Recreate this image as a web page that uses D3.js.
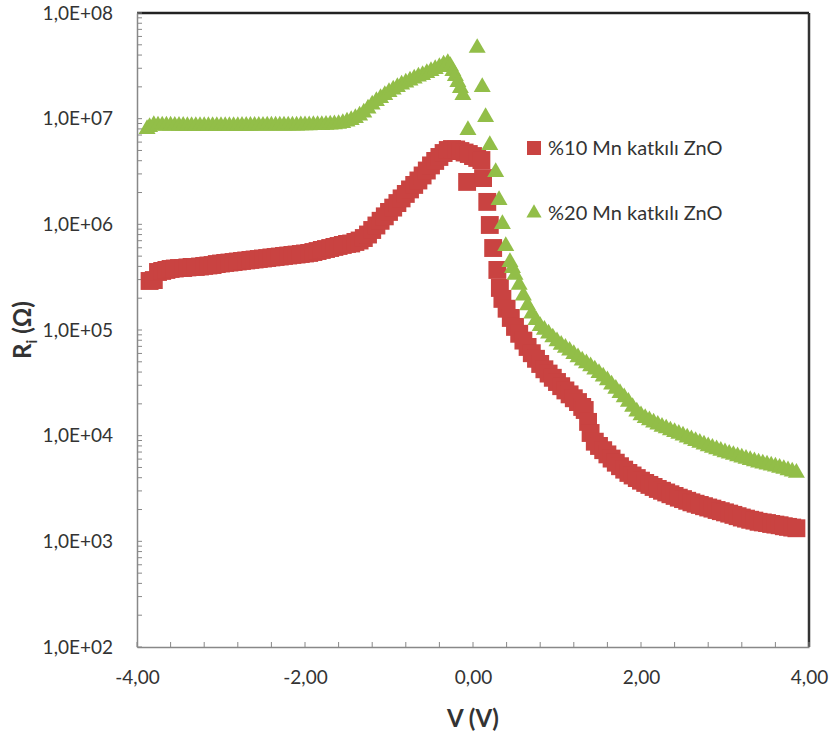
<!DOCTYPE html>
<html>
<head>
<meta charset="utf-8">
<script src="https://cdn.jsdelivr.net/npm/d3@7"></script>
<style>
  body { margin: 0; background: #fff; }
  text { font-family: Lato, "Liberation Sans", sans-serif; fill: #333; }
</style>
</head>
<body>
<div id="chart"></div>
<script>
// Series 1: %10 Mn katkili ZnO (V in volts, R in ohm)
var v10 = [-3.85, -3.80, -3.75, -3.70, -3.65, -3.60, -3.55, -3.50, -3.45, -3.40, -3.35, -3.30, -3.25, -3.20,
           -3.15, -3.10, -3.05, -3.00, -2.95, -2.90, -2.85, -2.80, -2.75, -2.70, -2.65, -2.60, -2.55, -2.50,
           -2.45, -2.40, -2.35, -2.30, -2.25, -2.20, -2.15, -2.10, -2.05, -2.00, -1.95, -1.90, -1.85, -1.80,
           -1.75, -1.70, -1.65, -1.60, -1.55, -1.50, -1.45, -1.40, -1.35, -1.30, -1.25, -1.20, -1.15, -1.10,
           -1.05, -1.00, -0.95, -0.90, -0.85, -0.80, -0.75, -0.70, -0.65, -0.60, -0.55, -0.50, -0.45, -0.40,
           -0.35, -0.30, -0.25, -0.20, -0.15, -0.10, -0.07, -0.05, 0.00, 0.05, 0.10, 0.12, 0.17, 0.20, 0.24,
           0.29, 0.32, 0.35, 0.40, 0.45, 0.50, 0.55, 0.60, 0.65, 0.70, 0.75, 0.80, 0.85, 0.90, 0.95, 1.00,
           1.05, 1.10, 1.15, 1.20, 1.25, 1.30, 1.33, 1.37, 1.40, 1.45, 1.50, 1.55, 1.60, 1.65, 1.70, 1.75,
           1.80, 1.85, 1.90, 1.95, 2.00, 2.05, 2.10, 2.15, 2.20, 2.25, 2.30, 2.35, 2.40, 2.45, 2.50, 2.55,
           2.60, 2.65, 2.70, 2.75, 2.80, 2.85, 2.90, 2.95, 3.00, 3.05, 3.10, 3.15, 3.20, 3.25, 3.30, 3.35,
           3.40, 3.45, 3.50, 3.55, 3.60, 3.65, 3.70, 3.75, 3.80, 3.85];
var r10 = [2.91e5, 2.97e5, 3.54e5, 3.62e5, 3.70e5, 3.78e5, 3.82e5, 3.86e5, 3.86e5, 3.91e5, 3.95e5, 3.95e5, 3.99e5, 4.04e5,
           4.08e5, 4.12e5, 4.21e5, 4.26e5, 4.31e5, 4.35e5, 4.40e5, 4.45e5, 4.50e5, 4.55e5, 4.60e5, 4.65e5, 4.70e5, 4.75e5,
           4.80e5, 4.86e5, 4.91e5, 4.96e5, 5.02e5, 5.07e5, 5.13e5, 5.18e5, 5.24e5, 5.30e5, 5.36e5, 5.47e5, 5.59e5, 5.72e5,
           5.84e5, 5.97e5, 6.11e5, 6.24e5, 6.38e5, 6.52e5, 6.59e5, 6.81e5, 7.03e5, 7.42e5, 8.01e5, 8.84e5, 9.75e5, 1.08e6,
           1.19e6, 1.31e6, 1.44e6, 1.59e6, 1.76e6, 1.94e6, 2.14e6, 2.36e6, 2.60e6, 2.90e6, 3.23e6, 3.61e6, 3.98e6, 4.34e6,
           4.73e6, 5.05e6, 5.16e6, 5.11e6, 4.94e6, 4.78e6, 2.52e6, 4.63e6, 4.43e6, 4.25e6, 4.06e6, 2.74e6, 1.63e6, 9.86e5, 5.97e5,
           3.70e5, 2.50e5, 1.97e5, 1.59e5, 1.30e5, 1.07e5, 9.21e4, 7.94e4, 6.91e4, 6.03e4, 5.34e4, 4.77e4, 4.25e4, 3.87e4, 3.53e4, 3.22e4,
           2.94e4, 2.68e4, 2.46e4, 2.26e4, 2.08e4, 1.87e4, 1.75e4, 1.35e4, 1.06e4, 8.77e3, 7.99e3, 7.29e3, 6.65e3, 6.07e3, 5.55e3, 5.14e3,
           4.77e3, 4.44e3, 4.20e3, 3.97e3, 3.75e3, 3.57e3, 3.42e3, 3.27e3, 3.13e3, 3.01e3, 2.90e3, 2.79e3, 2.69e3, 2.59e3, 2.51e3, 2.42e3,
           2.34e3, 2.27e3, 2.21e3, 2.15e3, 2.09e3, 2.04e3, 1.98e3, 1.93e3, 1.88e3, 1.83e3, 1.78e3, 1.73e3, 1.68e3, 1.64e3, 1.60e3, 1.57e3,
           1.53e3, 1.51e3, 1.49e3, 1.46e3, 1.44e3, 1.42e3, 1.39e3, 1.37e3, 1.35e3, 1.33e3];

// Series 2: %20 Mn katkili ZnO
var v20 = [-3.88, -3.85, -3.80, -3.75, -3.70, -3.65, -3.60, -3.55, -3.50, -3.45, -3.40, -3.35, -3.30, -3.25, -3.20,
           -3.15, -3.10, -3.05, -3.00, -2.95, -2.90, -2.85, -2.80, -2.75, -2.70, -2.65, -2.60, -2.55, -2.50,
           -2.45, -2.40, -2.35, -2.30, -2.25, -2.20, -2.15, -2.10, -2.05, -2.00, -1.95, -1.90, -1.85, -1.80,
           -1.75, -1.70, -1.65, -1.60, -1.55, -1.50, -1.45, -1.40, -1.35, -1.30, -1.25, -1.20, -1.15, -1.10,
           -1.05, -1.00, -0.95, -0.90, -0.85, -0.80, -0.75, -0.70, -0.65, -0.60, -0.55, -0.50, -0.45, -0.40,
           -0.35, -0.30, -0.27, -0.24, -0.21, -0.18, -0.15, -0.12, -0.06,
           0.05, 0.11, 0.15, 0.20, 0.27, 0.31, 0.35, 0.39, 0.44, 0.47, 0.50, 0.55, 0.60, 0.65, 0.70, 0.75,
           0.80, 0.85, 0.90, 0.95, 1.00, 1.05, 1.10, 1.15, 1.20, 1.25, 1.30, 1.35, 1.40, 1.45, 1.50, 1.55,
           1.60, 1.65, 1.70, 1.75, 1.80, 1.85, 1.90, 1.95, 2.00, 2.05, 2.10, 2.15, 2.20, 2.25, 2.30, 2.35,
           2.40, 2.45, 2.50, 2.55, 2.60, 2.65, 2.70, 2.75, 2.80, 2.85, 2.90, 2.95, 3.00, 3.05, 3.10, 3.15,
           3.20, 3.25, 3.30, 3.35, 3.40, 3.45, 3.50, 3.55, 3.60, 3.65, 3.70, 3.75, 3.80, 3.85];
var r20 = [7.98e6, 8.34e6, 8.71e6, 8.62e6, 8.62e6, 8.60e6, 8.60e6, 8.58e6, 8.55e6, 8.55e6, 8.52e6, 8.52e6, 8.52e6, 8.52e6, 8.52e6,
           8.52e6, 8.52e6, 8.52e6, 8.52e6, 8.52e6, 8.52e6, 8.52e6, 8.52e6, 8.55e6, 8.55e6, 8.55e6, 8.58e6, 8.58e6, 8.58e6,
           8.60e6, 8.60e6, 8.60e6, 8.62e6, 8.62e6, 8.62e6, 8.62e6, 8.62e6, 8.65e6, 8.65e6, 8.65e6, 8.68e6, 8.68e6, 8.70e6,
           8.75e6, 8.80e6, 8.85e6, 8.91e6, 9.10e6, 9.40e6, 9.71e6, 1.015e7, 1.072e7, 1.144e7, 1.248e7, 1.362e7, 1.470e7, 1.569e7,
           1.675e7, 1.788e7, 1.888e7, 1.994e7, 2.106e7, 2.199e7, 2.297e7, 2.399e7, 2.507e7, 2.590e7, 2.706e7, 2.826e7, 2.951e7, 3.083e7,
           3.255e7, 3.364e7, 3.150e7, 2.826e7, 2.534e7, 2.223e7, 1.951e7, 1.675e7, 7.81e6,
           4.67e7, 1.99e7, 1.037e7, 5.63e6, 3.13e6, 1.70e6, 1.007e6, 6.24e5, 4.40e5, 3.86e5, 3.32e5, 2.67e5, 2.12e5, 1.71e5, 1.43e5, 1.24e5,
           1.09e5, 1.005e5, 9.23e4, 8.50e4, 7.82e4, 7.24e4, 6.79e4, 6.37e4, 5.93e4, 5.51e4, 5.14e4, 4.83e4, 4.54e4, 4.23e4, 3.92e4, 3.63e4,
           3.34e4, 3.04e4, 2.78e4, 2.53e4, 2.31e4, 2.09e4, 1.87e4, 1.69e4, 1.56e4, 1.47e4, 1.40e4, 1.33e4, 1.27e4, 1.21e4, 1.17e4, 1.12e4,
           1.08e4, 1.04e4, 1.00e4, 9.61e3, 9.24e3, 8.89e3, 8.56e3, 8.25e3, 7.93e3, 7.66e3, 7.43e3, 7.19e3, 6.96e3, 6.75e3, 6.57e3, 6.38e3,
           6.20e3, 6.03e3, 5.87e3, 5.71e3, 5.56e3, 5.44e3, 5.32e3, 5.21e3, 5.10e3, 4.97e3, 4.84e3, 4.70e3, 4.57e3, 4.45e3];

var seriesNames = ["%10 Mn katkılı ZnO", "%20 Mn katkılı ZnO"];
var xTicks = [-4, -2, 0, 2, 4];
var yTicks = [1e2, 1e3, 1e4, 1e5, 1e6, 1e7, 1e8];

// Margin convention
var margin = {top: 13, right: 29, bottom: 89, left: 137};
var W = 838, H = 736;
var width = W - margin.left - margin.right;
var height = H - margin.top - margin.bottom;

var svg = d3.select("#chart")
            .append("svg")
            .attr("width", W)
            .attr("height", H)
            .style("display", "block")
            .append("g")
            .attr("transform", "translate(" + margin.left + "," + margin.top + ")");

// Scales
var x = d3.scaleLinear().domain([-4, 4]).range([0, width]);
var y = d3.scaleLog().domain([1e2, 1e8]).range([height, 0]);

// Minor ticks
var yMinor = [];
yTicks.slice(0, -1).forEach(function(d) {
    for (var k = 2; k <= 9; ++k) yMinor.push(d * k);
});
var xMinor = d3.range(0, 21).map(function(i) { return -4 + i * 0.4; });

// Border (top and right dark)
svg.append("line").attr("x1", 0).attr("x2", width).attr("y1", 0).attr("y2", 0)
   .attr("stroke", "#222").attr("stroke-width", 2.5);
svg.append("line").attr("x1", width).attr("x2", width).attr("y1", 0).attr("y2", height)
   .attr("stroke", "#333").attr("stroke-width", 2.5);

// Axes
var leftAxis = d3.axisLeft(y)
                 .tickValues(yTicks)
                 .tickSize(0)
                 .tickPadding(24)
                 .tickFormat(function(d) { return "1,0E+" + String(Math.round(Math.log10(d))).padStart(2, "0"); });
var bottomAxis = d3.axisBottom(x)
                   .tickValues(xTicks)
                   .tickSize(0)
                   .tickPadding(24)
                   .tickFormat(function(d) { return d.toFixed(2).replace(".", ","); });

var gy = svg.append("g").call(leftAxis);
var gx = svg.append("g").attr("transform", "translate(0," + height + ")").call(bottomAxis);
[gx, gy].forEach(function(g) {
    g.select(".domain").attr("stroke", "#888").attr("stroke-width", 1.5);
    g.selectAll("text").attr("font-size", 19).attr("fill", "#333")
     .attr("font-family", "Lato, 'Liberation Sans', sans-serif");
});

// Tick marks inside the plot
svg.append("g").selectAll("line")
   .data(yMinor.concat(yTicks))
   .enter().append("line")
   .attr("x1", 0).attr("x2", 5)
   .attr("y1", function(d) { return y(d); })
   .attr("y2", function(d) { return y(d); })
   .attr("stroke", "#888").attr("stroke-width", 1);
svg.append("g").selectAll("line")
   .data(xMinor)
   .enter().append("line")
   .attr("x1", function(d) { return x(d); })
   .attr("x2", function(d) { return x(d); })
   .attr("y1", height).attr("y2", height - 5)
   .attr("stroke", "#888").attr("stroke-width", 1);

// Axis titles
svg.append("text")
   .attr("x", width / 2).attr("y", height + 80)
   .attr("text-anchor", "middle")
   .attr("font-size", 24).attr("font-weight", "bold").attr("fill", "#333")
   .text("V (V)");

var yt = svg.append("text")
   .attr("transform", "translate(" + (-106) + "," + (330 - margin.top) + ") rotate(-90)")
   .attr("text-anchor", "middle")
   .attr("font-size", 24).attr("font-weight", "bold").attr("fill", "#333");
yt.append("tspan").text("R");
yt.append("tspan").attr("font-size", 15).attr("dy", 6).text("i");
yt.append("tspan").attr("dy", -6).text(" (Ω)");

// Data
var red = "#C94341", green = "#92BE48";
var data10 = v10.map(function(v, i) { return {v: v, r: r10[i]}; });
var data20 = v20.map(function(v, i) { return {v: v, r: r20[i]}; });

var sq = d3.symbol().type(d3.symbolSquare).size(320);
var tri = d3.symbol().type(d3.symbolTriangle).size(125);
var triLegend = d3.symbol().type(d3.symbolTriangle).size(100);

svg.append("g").selectAll("path")
   .data(data10)
   .enter().append("path")
   .attr("d", sq)
   .attr("transform", function(d) { return "translate(" + x(d.v) + "," + y(d.r) + ")"; })
   .attr("fill", red);

svg.append("g").selectAll("path")
   .data(data20)
   .enter().append("path")
   .attr("d", tri)
   .attr("transform", function(d) { return "translate(" + x(d.v) + "," + y(d.r) + ")"; })
   .attr("fill", green);

// Legend
var legend = svg.append("g").attr("transform", "translate(" + (534 - margin.left) + ",0)");
legend.append("rect").attr("x", -7).attr("y", 148 - margin.top - 7).attr("width", 14).attr("height", 14).attr("fill", red);
legend.append("path").attr("d", triLegend).attr("transform", "translate(0," + (213 - margin.top) + ")").attr("fill", green);
legend.selectAll("text")
      .data(seriesNames)
      .enter().append("text")
      .attr("x", 14)
      .attr("y", function(d, i) { return (i === 0 ? 148 : 213) - margin.top; })
      .attr("dy", "0.35em")
      .attr("font-size", 20)
      .attr("fill", "#333")
      .text(function(d) { return d; });
</script>
</body>
</html>
